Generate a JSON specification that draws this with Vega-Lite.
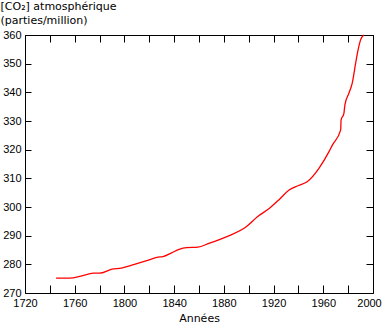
{
  "$schema": "https://vega.github.io/schema/vega-lite/v6.json",
  "width": 348,
  "height": 258,
  "autosize": {"type": "none"},
  "padding": {"left": 25, "top": 35, "right": 10, "bottom": 31},
  "background": "#ffffff",
  "config": {
    "view": {"stroke": "#000000", "strokeWidth": 1},
    "axis": {
      "domain": false,
      "grid": false,
      "tickColor": "#000000",
      "tickWidth": 1,
      "labelColor": "#000000",
      "labelFont": "Liberation Sans",
      "labelFontSize": 11,
      "titleFont": "DejaVu Sans",
      "titleFontSize": 11,
      "titleFontWeight": "normal",
      "titleColor": "#000000"
    }
  },
  "data": {
    "values": [
      {"year": 1745, "ppm": 275.2},
      {"year": 1756, "ppm": 275.2},
      {"year": 1765, "ppm": 275.9},
      {"year": 1775, "ppm": 276.9},
      {"year": 1780, "ppm": 276.9},
      {"year": 1790, "ppm": 278.3},
      {"year": 1797.5, "ppm": 278.7},
      {"year": 1808, "ppm": 280.0},
      {"year": 1818, "ppm": 281.3},
      {"year": 1827, "ppm": 282.5},
      {"year": 1831, "ppm": 282.7},
      {"year": 1838, "ppm": 284.0},
      {"year": 1844, "ppm": 285.2},
      {"year": 1850, "ppm": 285.8},
      {"year": 1859, "ppm": 286.0},
      {"year": 1868, "ppm": 287.3},
      {"year": 1882, "ppm": 289.6},
      {"year": 1898, "ppm": 293.1},
      {"year": 1907, "ppm": 296.6},
      {"year": 1916.5, "ppm": 299.5},
      {"year": 1925, "ppm": 302.8},
      {"year": 1932.5, "ppm": 305.9},
      {"year": 1940, "ppm": 307.5},
      {"year": 1947, "ppm": 308.8},
      {"year": 1956.5, "ppm": 313.5},
      {"year": 1964.6, "ppm": 319.3},
      {"year": 1967.3, "ppm": 321.6},
      {"year": 1974, "ppm": 326.9},
      {"year": 1974.3, "ppm": 330.3},
      {"year": 1976.6, "ppm": 332.7},
      {"year": 1977.4, "ppm": 335.6},
      {"year": 1980.6, "ppm": 339.7},
      {"year": 1983.3, "ppm": 343.2},
      {"year": 1986, "ppm": 350.1},
      {"year": 1988, "ppm": 354.8},
      {"year": 1990, "ppm": 358.3},
      {"year": 1992.6, "ppm": 360}
    ]
  },
  "layer": [
    {
      "mark": {"type": "line", "color": "#ff0000", "strokeWidth": 1.3, "interpolate": "monotone"},
      "encoding": {
        "x": {
          "field": "year",
          "type": "quantitative",
          "scale": {"domain": [1720, 2000], "nice": false, "zero": false},
          "axis": {
            "orient": "bottom",
            "values": [1720, 1740, 1760, 1780, 1800, 1820, 1840, 1860, 1880, 1900, 1920, 1940, 1960, 1980, 2000],
            "format": "d",
            "labelExpr": "datum.value % 40 == 0 ? datum.label : ''",
            "labelOffset": {"condition": {"test": "datum.value == 2000", "value": -4}, "value": 0},
            "tickSize": -8,
            "labelPadding": 12,
            "labelFlush": false,
            "labelOverlap": false,
            "title": "Années",
            "titlePadding": 4
          }
        },
        "y": {
          "field": "ppm",
          "type": "quantitative",
          "scale": {"domain": [270, 360], "nice": false, "zero": false},
          "axis": {
            "orient": "left",
            "values": [270, 280, 290, 300, 310, 320, 330, 340, 350, 360],
            "tickSize": -6,
            "labelPadding": 10,
            "labelFlush": false,
            "labelOverlap": false,
            "title": ["[CO₂] atmosphérique", "(parties/million)"],
            "titleAngle": 0,
            "titleAlign": "left",
            "titleBaseline": "top",
            "titleX": -25,
            "titleY": -35,
            "titleLineHeight": 14
          }
        }
      }
    },
    {
      "mark": {"type": "line", "opacity": 0},
      "encoding": {
        "x": {
          "field": "year",
          "type": "quantitative",
          "axis": {
            "orient": "top",
            "values": [1720, 1740, 1760, 1780, 1800, 1820, 1840, 1860, 1880, 1900, 1920, 1940, 1960, 1980, 2000],
            "tickSize": -7,
            "labels": false,
            "title": null
          }
        },
        "y": {
          "field": "ppm",
          "type": "quantitative",
          "axis": {
            "orient": "right",
            "values": [270, 280, 290, 300, 310, 320, 330, 340, 350, 360],
            "tickSize": -7,
            "labels": false,
            "title": null
          }
        }
      }
    }
  ],
  "resolve": {"axis": {"x": "independent", "y": "independent"}}
}
